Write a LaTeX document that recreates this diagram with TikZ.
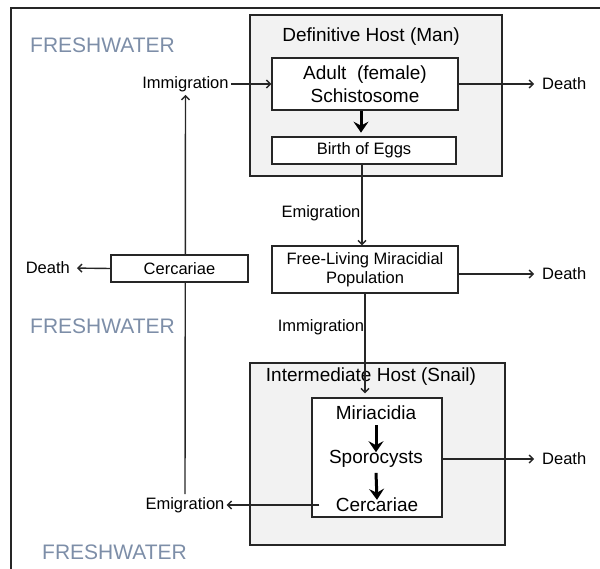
\documentclass[tikz,border=0pt]{standalone}
\usepackage{fontspec}
\setmainfont{Liberation Sans}
\usetikzlibrary{arrows.meta}
\definecolor{fw}{RGB}{125,142,168}
\definecolor{hostgray}{RGB}{242,242,242}
\begin{document}
\begin{tikzpicture}[x=1pt,y=-1pt,
  frame/.style={draw=black!85,line width=1.4pt},
  hostbox/.style={draw=black!85,line width=1.3pt,fill=hostgray,inner sep=0pt},
  box/.style={draw=black!85,line width=1.3pt,fill=white,inner sep=0pt,align=center},
  big/.style={font=\fontsize{19}{23}\selectfont},
  small/.style={font=\fontsize{16.5}{19}\selectfont},
  lbl/.style={small,inner sep=0pt},
  fwlabel/.style={font=\fontsize{21}{25}\selectfont,text=fw,inner sep=0pt},
  conn/.style={line width=1.4pt,draw=black!85,-{Straight Barb[length=4pt,width=8pt]}},
  bigarrow/.style={line width=3pt,draw=black,-{Stealth[length=11pt,width=15pt,inset=4pt]}}]
\useasboundingbox (0,0) rectangle (600,569);
% outer frame
\draw[frame] (11,569) -- (11,8) -- (600,8);
% freshwater labels
\node[fwlabel,anchor=west] (fw1) at (30,45) {FRESHWATER};
\node[fwlabel,anchor=west] (fw2) at (30,326) {FRESHWATER};
\node[fwlabel,anchor=west] (fw3) at (42,552) {FRESHWATER};
% definitive host
\node[hostbox,minimum width=252pt,minimum height=161pt] (def) at (376,95.5) {};
\node[big,inner sep=0pt] (deftitle) at (371,37) {Definitive Host (Man)};
\node[box,big,minimum width=186pt,minimum height=52pt] (adult) at (365,84) {Adult\ \ (female)\\Schistosome};
\node[box,small,minimum width=184pt,minimum height=27pt] (eggs) at (364,150.5) {Birth of Eggs};
% free living
\node[box,small,minimum width=186pt,minimum height=47pt] (free) at (365,269.5) {Free-Living Miracidial\\Population};
% intermediate host
\node[hostbox,minimum width=255pt,minimum height=182pt] (inter) at (377.5,454) {};
\node[big,inner sep=0pt] (intertitle) at (371,377) {Intermediate Host (Snail)};
\node[box,minimum width=130pt,minimum height=119pt] (inner) at (377,457.5) {};
\node[big,inner sep=1pt] (mir) at (376,413) {Miriacidia};
\node[big,inner sep=1pt] (spo) at (376,459) {Sporocysts};
\node[big,inner sep=1pt] (cer) at (377,505) {Cercariae};
% labels
\node[lbl] (imm1) at (185.5,84) {Immigration};
\node[lbl,anchor=west] (death1) at (542,84) {Death};
\node[lbl] (emig1) at (321,213) {Emigration};
\node[lbl,anchor=west] (death2) at (542,274) {Death};
\node[lbl] (imm2) at (321,327) {Immigration};
\node[lbl,anchor=west] (death3) at (542,459) {Death};
\node[lbl] (emig2) at (185,505) {Emigration};
\node[lbl,anchor=east] (deathL) at (70,268) {Death};
% connectors
\draw[conn,shorten <=2pt] (imm1.east) -- (adult.west);
\draw[conn,shorten >=8pt] (adult.east) -- (death1.west);
\draw[bigarrow] ([xshift=-4pt]adult.south) -- ++(0,22);
\draw[conn] ([xshift=-2pt]eggs.south) -- ([xshift=-2pt]eggs.south |- free.north);
\draw[conn,shorten >=8pt] (free.east |- death2) -- (death2.west);
\draw[conn] (free.south) -- ([yshift=4pt]free.south |- inner.north);
\draw[bigarrow] ([yshift=-4pt]mir.south) -- ([yshift=-3pt]spo.north);
\draw[bigarrow] ([yshift=-4pt]spo.south) -- ([yshift=-3pt]cer.north);
\draw[conn,shorten >=8pt] (inner.east |- spo) -- (death3.west);
\draw[conn,shorten >=2pt] ([xshift=8pt]inner.west |- cer) -- (emig2.east);
\draw[conn,shorten <=3pt,shorten >=3pt] (emig2.north) -- (imm1.south);
\node[box,small,minimum width=137pt,minimum height=27pt] (cerc) at (179.5,268.5) {Cercariae};
\draw[conn,shorten >=7pt] (cerc.west) -- (deathL.east);
\end{tikzpicture}
\end{document}
